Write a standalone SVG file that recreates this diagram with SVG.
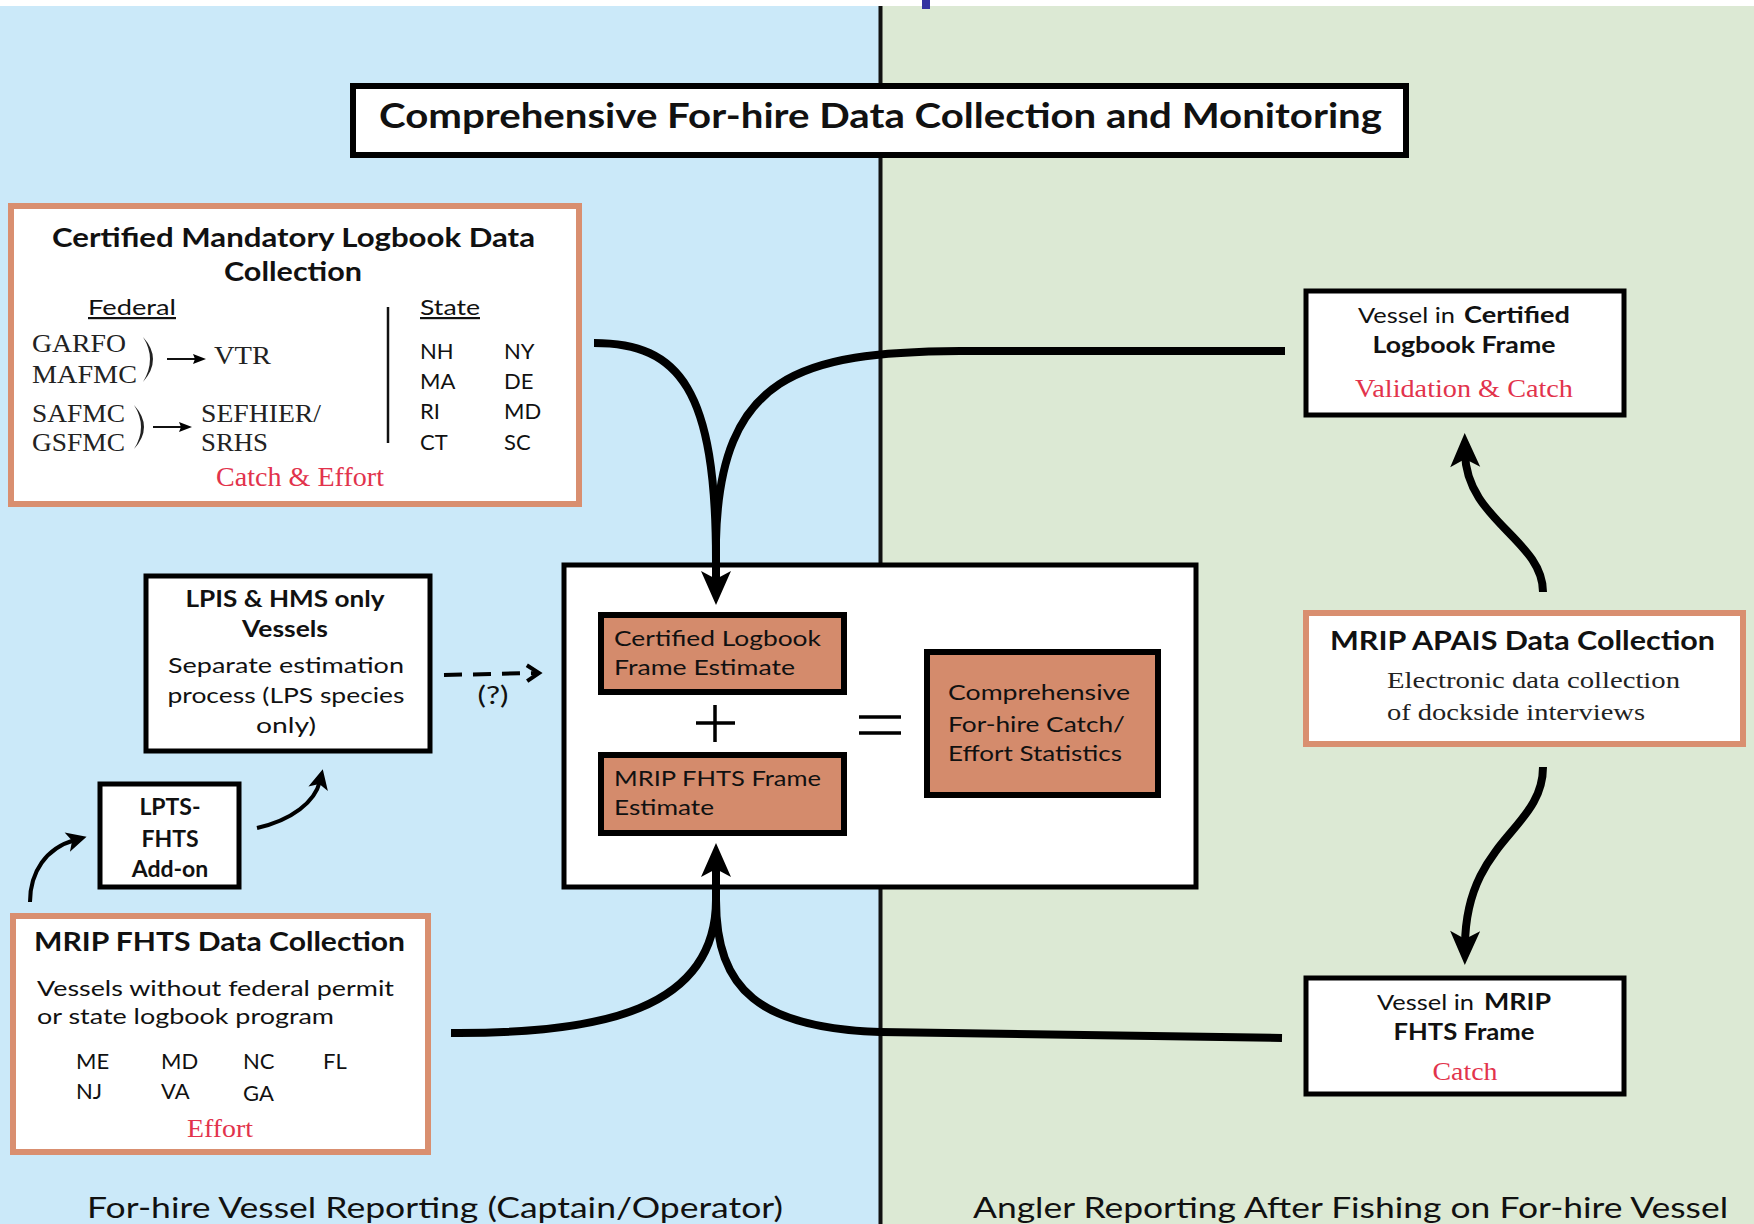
<svg xmlns="http://www.w3.org/2000/svg" width="1754" height="1224" viewBox="0 0 1754 1224">
<style>
.sans{font-family:Lato,"Open Sans","Liberation Sans",sans-serif;fill:#111}
.b{font-weight:700}
.serif{font-family:"Liberation Serif","DejaVu Serif",serif;fill:#222}
.red{fill:#e2334c}
.box{fill:#fff;stroke:#000;stroke-width:5}
.sbox{fill:#fff;stroke:#d98f70;stroke-width:6}
.obox{fill:#d48b6c;stroke:#000;stroke-width:6}
.conn{fill:none;stroke:#000;stroke-width:8}
.thin{fill:none;stroke:#000;stroke-width:4}
</style>
<defs>
<marker id="big" markerUnits="userSpaceOnUse" orient="auto" overflow="visible" markerWidth="1" markerHeight="1" refX="0" refY="0">
<path d="M20,0 L-14,-15 L-6,0 L-14,15 Z" fill="#000"/>
</marker>
<marker id="small" markerUnits="userSpaceOnUse" orient="auto" overflow="visible" markerWidth="1" markerHeight="1" refX="0" refY="0">
<path d="M12,0 L-8,-10 L-3,0 L-8,10 Z" fill="#000"/>
</marker>
<marker id="tiny" markerUnits="userSpaceOnUse" orient="auto" overflow="visible" markerWidth="1" markerHeight="1" refX="0" refY="0">
<path d="M6,0 L-7,-5 L-5,0 L-7,5 Z" fill="#000"/>
</marker>
<marker id="chev" markerUnits="userSpaceOnUse" orient="auto" overflow="visible" markerWidth="1" markerHeight="1" refX="0" refY="0">
<path d="M-10,-8 L2,0 L-10,8" fill="none" stroke="#000" stroke-width="4"/>
</marker>
</defs>

<!-- background -->
<rect x="0" y="0" width="1754" height="1224" fill="#fff"/>
<rect x="0" y="6" width="881" height="1218" fill="#cbe9f9"/>
<rect x="881" y="6" width="873" height="1218" fill="#dce9d4"/>
<rect x="922" y="0" width="8" height="9" fill="#3232a0"/>
<line x1="880.5" y1="6" x2="880.5" y2="1224" stroke="#111" stroke-width="4"/>

<!-- title -->
<g id="title">
<rect x="353" y="86" width="1053" height="69" fill="#fff" stroke="#000" stroke-width="6"/>
<text class="sans b" x="880.5" y="128" font-size="34" text-anchor="middle" textLength="1003" lengthAdjust="spacingAndGlyphs">Comprehensive For-hire Data Collection and Monitoring</text>
</g>

<!-- Certified Mandatory Logbook Data Collection -->
<g id="certified-mandatory">
<rect class="sbox" x="11" y="206" width="568" height="298"/>
<text class="sans b" x="293.5" y="247" font-size="27" text-anchor="middle" textLength="483" lengthAdjust="spacingAndGlyphs">Certified Mandatory Logbook Data</text>
<text class="sans b" x="293" y="281" font-size="27" text-anchor="middle" textLength="138" lengthAdjust="spacingAndGlyphs">Collection</text>
<text class="sans" x="88" y="315" font-size="22" text-decoration="underline" textLength="88" lengthAdjust="spacingAndGlyphs">Federal</text>
<text class="sans" x="420" y="315" font-size="22" text-decoration="underline" textLength="60" lengthAdjust="spacingAndGlyphs">State</text>
<line x1="388" y1="307" x2="388" y2="443" stroke="#111" stroke-width="2.5"/>
<g class="sans" font-size="22">
<text x="420" y="359">NH</text><text x="420" y="389">MA</text><text x="420" y="419">RI</text><text x="420" y="450">CT</text>
<text x="504" y="359">NY</text><text x="504" y="389">DE</text><text x="504" y="419">MD</text><text x="504" y="450">SC</text>
</g>
<g class="serif" font-size="26">
<text x="32" y="352" textLength="94" lengthAdjust="spacingAndGlyphs">GARFO</text>
<text x="32" y="383" textLength="105" lengthAdjust="spacingAndGlyphs">MAFMC</text>
<text x="32" y="422" textLength="93" lengthAdjust="spacingAndGlyphs">SAFMC</text>
<text x="32" y="451" textLength="93" lengthAdjust="spacingAndGlyphs">GSFMC</text>
<text x="214" y="364" textLength="57" lengthAdjust="spacingAndGlyphs">VTR</text>
<text x="201" y="422" textLength="120" lengthAdjust="spacingAndGlyphs">SEFHIER/</text>
<text x="201" y="451" textLength="67" lengthAdjust="spacingAndGlyphs">SRHS</text>
</g>
<path d="M143,337 Q163,359 143,382 Q157,359 143,337 Z" fill="#222"/>
<path d="M134,405 Q154,427 134,449 Q148,427 134,405 Z" fill="#222"/>
<line x1="167" y1="359" x2="200" y2="359" stroke="#111" stroke-width="1.8" marker-end="url(#tiny)"/>
<line x1="153" y1="427" x2="186" y2="427" stroke="#111" stroke-width="1.8" marker-end="url(#tiny)"/>
<text class="serif red" x="300" y="486" font-size="27" text-anchor="middle" textLength="168" lengthAdjust="spacingAndGlyphs">Catch &amp; Effort</text>
</g>

<!-- LPIS & HMS only Vessels -->
<g id="lpis">
<rect class="box" x="146" y="576" width="284" height="175" stroke-width="4.5"/>
<text class="sans b" x="285" y="607" font-size="22" text-anchor="middle" textLength="199" lengthAdjust="spacingAndGlyphs">LPIS &amp; HMS only</text>
<text class="sans b" x="285" y="637" font-size="22" text-anchor="middle" textLength="86" lengthAdjust="spacingAndGlyphs">Vessels</text>
<text class="sans" x="286" y="673" font-size="22" text-anchor="middle" textLength="236" lengthAdjust="spacingAndGlyphs">Separate estimation</text>
<text class="sans" x="286" y="703" font-size="22" text-anchor="middle" textLength="237" lengthAdjust="spacingAndGlyphs">process (LPS species</text>
<text class="sans" x="286" y="733" font-size="22" text-anchor="middle" textLength="60" lengthAdjust="spacingAndGlyphs">only)</text>
</g>

<!-- LPTS-FHTS Add-on -->
<g id="lpts">
<rect class="box" x="100" y="784" width="139" height="103" stroke-width="4.5"/>
<text class="sans b" x="170" y="815" font-size="23" text-anchor="middle">LPTS-</text>
<text class="sans b" x="170" y="847" font-size="23" text-anchor="middle">FHTS</text>
<text class="sans b" x="170" y="877" font-size="23" text-anchor="middle">Add-on</text>
</g>

<!-- MRIP FHTS Data Collection -->
<g id="mrip-fhts">
<rect class="sbox" x="13" y="916" width="415" height="236"/>
<text class="sans b" x="34" y="951" font-size="26" textLength="371" lengthAdjust="spacingAndGlyphs">MRIP FHTS Data Collection</text>
<text class="sans" x="37" y="996" font-size="22" textLength="357" lengthAdjust="spacingAndGlyphs">Vessels without federal permit</text>
<text class="sans" x="37" y="1024" font-size="22" textLength="297" lengthAdjust="spacingAndGlyphs">or state logbook program</text>
<g class="sans" font-size="22">
<text x="76" y="1069">ME</text><text x="161" y="1069">MD</text><text x="243" y="1069">NC</text><text x="323" y="1069">FL</text>
<text x="76" y="1099">NJ</text><text x="161" y="1099">VA</text><text x="243" y="1101">GA</text>
</g>
<text class="serif red" x="220" y="1137" font-size="26" text-anchor="middle" textLength="66" lengthAdjust="spacingAndGlyphs">Effort</text>
</g>

<!-- central estimate box -->
<g id="estimate">
<rect class="box" x="564" y="565" width="632" height="322"/>
<rect class="obox" x="601" y="615" width="243" height="77"/>
<text class="sans" x="614" y="646" font-size="22" textLength="207" lengthAdjust="spacingAndGlyphs">Certified Logbook</text>
<text class="sans" x="614" y="675" font-size="22" textLength="181" lengthAdjust="spacingAndGlyphs">Frame Estimate</text>
<path d="M696,723 H735 M715,705 V742" stroke="#000" stroke-width="3.5" fill="none"/>
<rect class="obox" x="601" y="755" width="243" height="78"/>
<text class="sans" x="614" y="786" font-size="22" textLength="207" lengthAdjust="spacingAndGlyphs">MRIP FHTS Frame</text>
<text class="sans" x="614" y="815" font-size="22" textLength="100" lengthAdjust="spacingAndGlyphs">Estimate</text>
<path d="M859,717 H901 M859,733 H901" stroke="#000" stroke-width="3.5" fill="none"/>
<rect class="obox" x="927" y="652" width="231" height="143"/>
<text class="sans" x="948" y="700" font-size="22" textLength="182" lengthAdjust="spacingAndGlyphs">Comprehensive</text>
<text class="sans" x="948" y="732" font-size="22" textLength="177" lengthAdjust="spacingAndGlyphs">For-hire Catch/</text>
<text class="sans" x="948" y="761" font-size="22" textLength="174" lengthAdjust="spacingAndGlyphs">Effort Statistics</text>
</g>

<!-- Vessel in Certified Logbook Frame -->
<g id="vessel-certified">
<rect class="box" x="1306" y="291" width="318" height="124" stroke-width="6"/>
<text class="sans" x="1358" y="323" font-size="22" textLength="97" lengthAdjust="spacingAndGlyphs">Vessel in</text>
<text class="sans b" x="1464" y="323" font-size="22" textLength="106" lengthAdjust="spacingAndGlyphs">Certified</text>
<text class="sans b" x="1464" y="353" font-size="22" text-anchor="middle" textLength="183" lengthAdjust="spacingAndGlyphs">Logbook Frame</text>
<text class="serif red" x="1464" y="397" font-size="25" text-anchor="middle" textLength="218" lengthAdjust="spacingAndGlyphs">Validation &amp; Catch</text>
</g>

<!-- MRIP APAIS Data Collection -->
<g id="apais">
<rect class="sbox" x="1306" y="613" width="437" height="131"/>
<text class="sans b" x="1330" y="650" font-size="26" textLength="385" lengthAdjust="spacingAndGlyphs">MRIP APAIS Data Collection</text>
<text class="serif" x="1387" y="688" font-size="24" textLength="293" lengthAdjust="spacingAndGlyphs">Electronic data collection</text>
<text class="serif" x="1387" y="720" font-size="24" textLength="258" lengthAdjust="spacingAndGlyphs">of dockside interviews</text>
</g>

<!-- Vessel in MRIP FHTS Frame -->
<g id="vessel-mrip">
<rect class="box" x="1306" y="978" width="318" height="116" stroke-width="6"/>
<text class="sans" x="1377" y="1010" font-size="22" textLength="97" lengthAdjust="spacingAndGlyphs">Vessel in</text>
<text class="sans b" x="1484" y="1010" font-size="22" textLength="67" lengthAdjust="spacingAndGlyphs">MRIP</text>
<text class="sans b" x="1464" y="1040" font-size="22" text-anchor="middle" textLength="141" lengthAdjust="spacingAndGlyphs">FHTS Frame</text>
<text class="serif red" x="1465" y="1080" font-size="25" text-anchor="middle" textLength="65" lengthAdjust="spacingAndGlyphs">Catch</text>
</g>

<!-- connectors -->
<g id="connectors">
<path class="conn" d="M594,343 C680,343 716,390 716,560 L716,585" marker-end="url(#big)"/>
<path class="conn" d="M1285,351 L960,351 C800,352 720,375 716,540 L716,585"/>
<path class="conn" d="M451,1033 C600,1034 716,1010 716,900 L716,863" marker-end="url(#big)"/>
<path class="conn" d="M1282,1038 L880,1032 C760,1028 716,990 716,900 L716,863"/>
<path class="conn" d="M1543,592 C1543,540 1466,520 1465,453" marker-end="url(#big)"/>
<path class="conn" d="M1543,767 C1543,830 1466,840 1465,945" marker-end="url(#big)"/>
<path class="thin" d="M257,828 C292,820 315,802 320,781" marker-end="url(#small)"/>
<path class="thin" d="M30,902 C30,872 46,848 75,840" marker-end="url(#small)"/>
<path d="M444,675 L537,673" fill="none" stroke="#000" stroke-width="4" stroke-dasharray="18,11" marker-end="url(#chev)"/>
<text class="sans" x="493" y="704" font-size="25" text-anchor="middle" textLength="31" lengthAdjust="spacingAndGlyphs">(?)</text>
</g>

<!-- footer labels -->
<text class="sans" x="87" y="1218" font-size="29" textLength="696" lengthAdjust="spacingAndGlyphs">For-hire Vessel Reporting (Captain/Operator)</text>
<text class="sans" x="973" y="1218" font-size="29" textLength="755" lengthAdjust="spacingAndGlyphs">Angler Reporting After Fishing on For-hire Vessel</text>
</svg>
